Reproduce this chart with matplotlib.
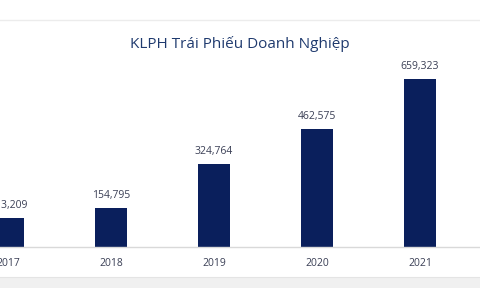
import matplotlib
matplotlib.use("Agg")
import matplotlib.pyplot as plt
from matplotlib.patches import Rectangle
from matplotlib.lines import Line2D

years = ["2017", "2018", "2019", "2020", "2021"]
values = [113209, 154795, 324764, 462575, 659323]
value_labels = ["113,209", "154,795", "324,764", "462,575", "659,323"]
title = "KLPH Trái Phiếu Doanh Nghiệp"

W, H = 480, 288
fig = plt.figure(figsize=(W / 100, H / 100), dpi=100)
fig.patch.set_facecolor("white")
plt.rcParams["font.family"] = ["Open Sans", "DejaVu Sans"]

# bottom grey band and faint top line
fig.patches.append(Rectangle((0, 0), 1, 11 / H, transform=fig.transFigure,
                             facecolor="#f0f0f0", edgecolor="none", zorder=0))
fig.lines.append(Line2D([0, 1], [1 - 20 / H, 1 - 20 / H], transform=fig.transFigure,
                        color="#ececec", lw=1))
fig.lines.append(Line2D([0, 1], [1 - 277 / H, 1 - 277 / H], transform=fig.transFigure,
                        color="#e4e4e4", lw=0.8))

ax = fig.add_axes([0, 1 - 247 / H, 1, 227 / H])
ax.set_facecolor("none")
x = list(range(len(years)))
ax.bar(x, values, width=0.31, color="#0a1f5c", zorder=2)
ax.set_xlim(-8 / 103, (480 - 8) / 103)
ax.set_ylim(0, 890000)
for xi, v, lab in zip(x, values, value_labels):
    ax.annotate(lab, (xi, v), xytext=(0, 5), textcoords="offset points",
                ha="center", va="bottom", fontsize=7.5, color="#3a3f55")
ax.set_xticks(x)
ax.set_xticklabels(years, fontsize=7.5, color="#3a3f55")
ax.tick_params(axis="x", length=0, pad=8)
ax.set_yticks([])
for s in ["top", "right", "left"]:
    ax.spines[s].set_visible(False)
ax.spines["bottom"].set_color("#d9d9d9")
ax.spines["bottom"].set_linewidth(1)

fig.text(0.5, 1 - 44 / H, title, ha="center", va="center", fontsize=11,
         color="#1f3a6e")

fig.savefig("out.png", dpi=100, facecolor="white")
